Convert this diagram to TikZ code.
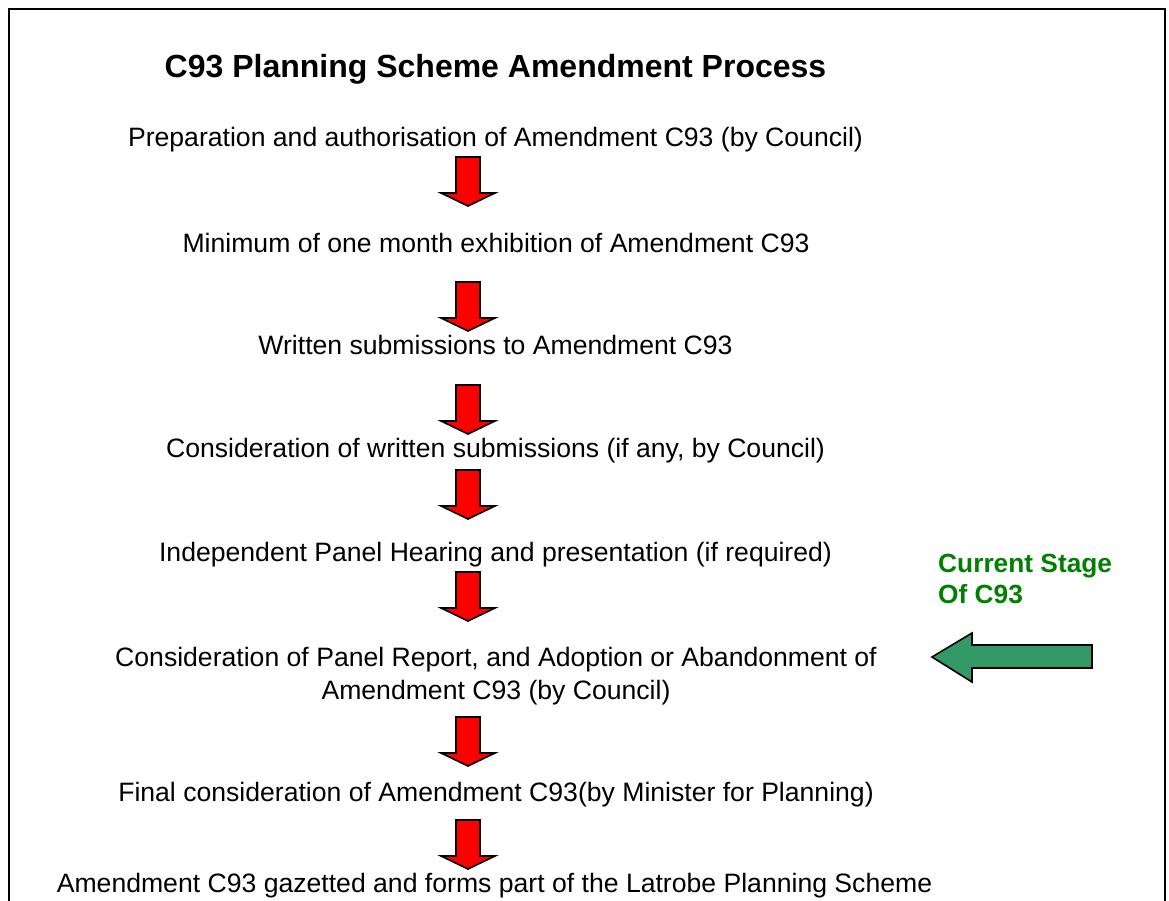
\documentclass[tikz,border=0pt]{standalone}
\usepackage{fontspec}
\setmainfont{Liberation Sans}
\definecolor{arrowred}{RGB}{255,0,0}
\definecolor{stagegreen}{RGB}{0,128,0}
\definecolor{arrowgreen}{RGB}{51,153,102}
\tikzset{
  steptext/.style={font=\fontsize{26.6}{30}\selectfont, anchor=base, inner sep=0pt},
  titletext/.style={font=\fontsize{32}{36}\selectfont\bfseries, anchor=base, inner sep=0pt},
  stagetext/.style={font=\fontsize{26.3}{30}\selectfont\bfseries, text=stagegreen, anchor=base west, inner sep=0pt},
  redarrow/.style={fill=arrowred, draw=black, line width=1.6pt, line join=miter},
  greenarrow/.style={fill=arrowgreen, draw=black, line width=1.6pt, line join=miter}
}
\newcommand{\downarrowat}[2]{%
  \draw[redarrow] (#1-12,#2) -- (#1+12,#2) -- (#1+12,#2+36) -- (#1+27,#2+36) -- (#1,#2+49) -- (#1-27,#2+36) -- (#1-12,#2+36) -- cycle;}
\begin{document}
\begin{tikzpicture}[x=1pt,y=-1pt]
\useasboundingbox (0,0) rectangle (1169,901);
\draw[line width=2pt] (9,901) -- (9,9) -- (1165,9) -- (1165,901);
\node[titletext] (title) at (495.5,78) {C93 Planning Scheme Amendment Process};
\node[steptext] (s1) at (495.5,147) {Preparation and authorisation of Amendment C93 (by Council)};
\node[steptext] (s2) at (496,253) {Minimum of one month exhibition of Amendment C93};
\node[steptext] (s3) at (495.5,354) {Written submissions to Amendment C93};
\node[steptext] (s4) at (495.5,457) {Consideration of written submissions (if any, by Council)};
\node[steptext] (s5) at (495.5,561) {Independent Panel Hearing and presentation (if required)};
\node[steptext] (s6) at (496,666) {Consideration of Panel Report, and Adoption or Abandonment of};
\node[steptext] (s6b) at (496,699) {Amendment C93 (by Council)};
\node[steptext] (s7) at (496,801) {Final consideration of Amendment C93(by Minister for Planning)};
\node[steptext] (s8) at (494.5,892.5) {Amendment C93 gazetted and forms part of the Latrobe Planning Scheme};
\downarrowat{468}{157}
\downarrowat{468}{282}
\downarrowat{468}{385}
\downarrowat{468}{470}
\downarrowat{468}{572}
\downarrowat{468}{717}
\downarrowat{468}{820}
\node[stagetext] (stage) at (938,572) {Current Stage};
\node[stagetext] (stageb) at (938,603) {Of C93};
\draw[greenarrow] (932,657) -- (972,633) -- (972,645) -- (1092,645) -- (1092,668) -- (972,668) -- (972,682) -- cycle;
\end{tikzpicture}
\end{document}
